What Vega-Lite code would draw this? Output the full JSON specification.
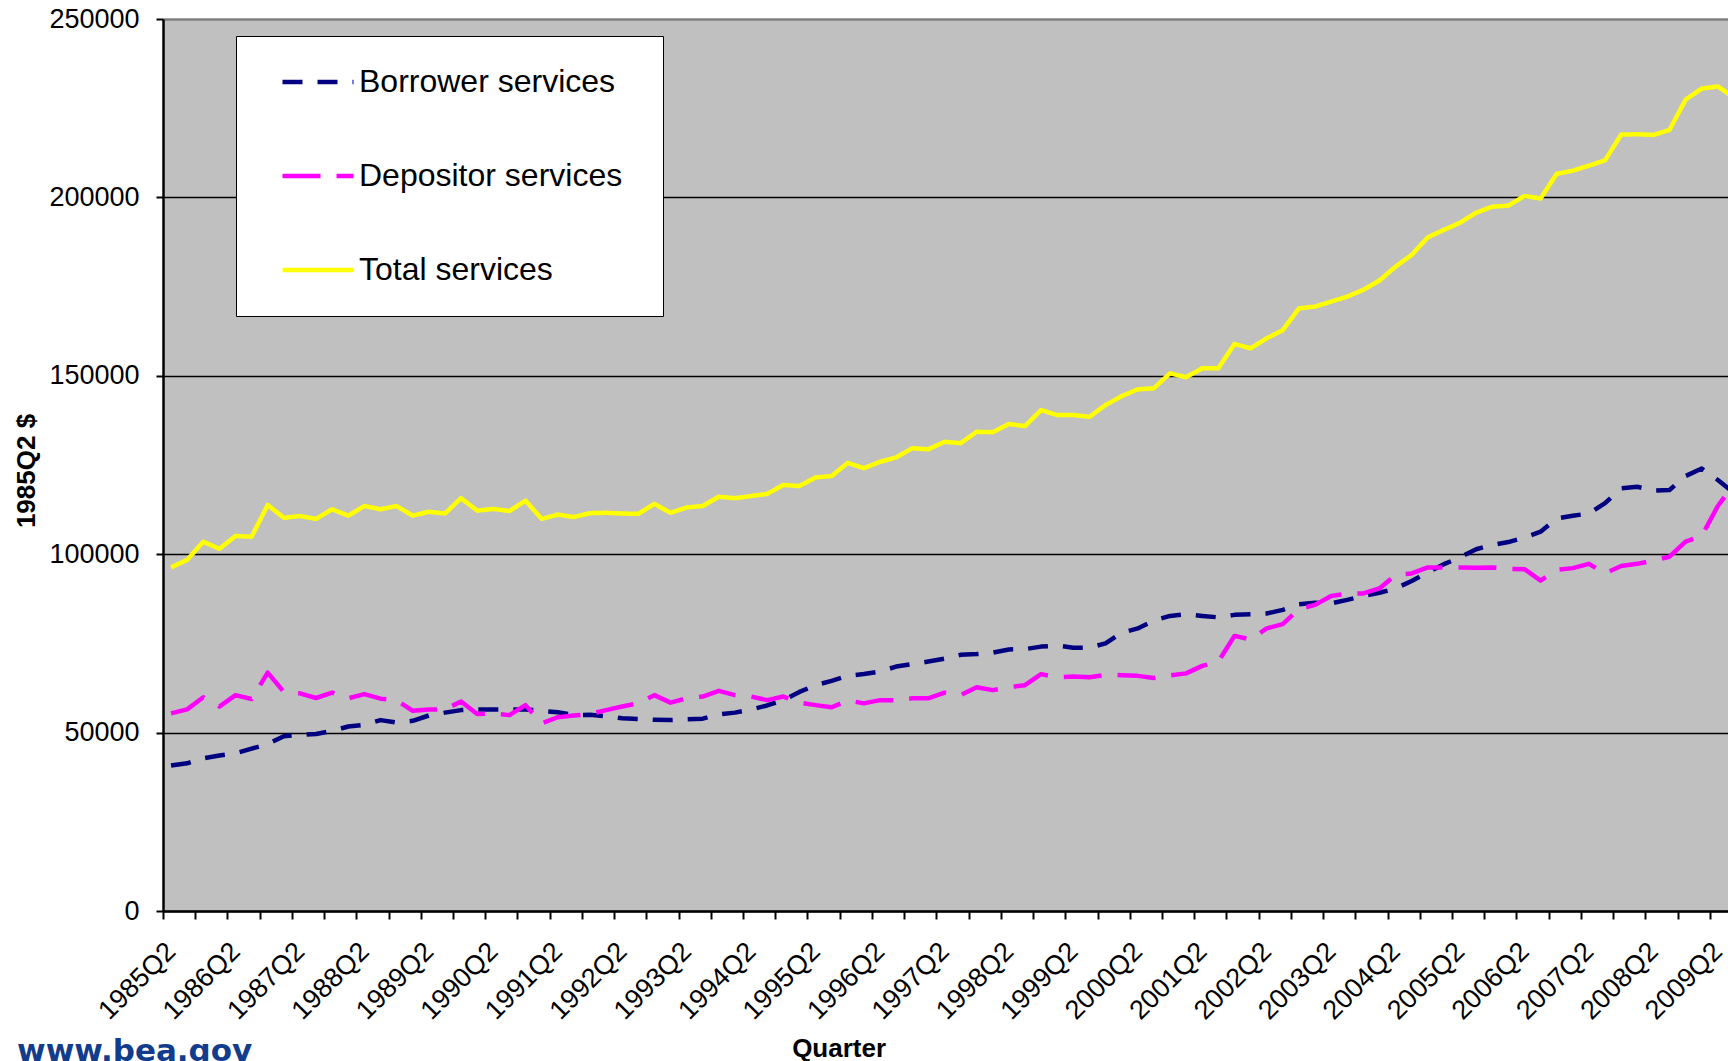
{
  "$schema": "https://vega.github.io/schema/vega-lite/v6.json",
  "width": 1565,
  "height": 892,
  "autosize": {"type": "none"},
  "padding": {"left": 163, "top": 19, "right": 0, "bottom": 150},
  "background": "white",
  "config": {
    "view": {"fill": "#C0C0C0", "stroke": null},
    "font": "Liberation Sans",
    "legend": {
      "orient": "none",
      "legendX": 73,
      "legendY": 17,
      "fillColor": "white",
      "strokeColor": "black",
      "padding": 10,
      "rowPadding": 22,
      "clipHeight": 72,
      "symbolType": "stroke",
      "symbolSize": 5041,
      "symbolStrokeWidth": 4.5,
      "symbolOffset": 34,
      "labelOffset": 3,
      "labelFontSize": 32,
      "labelFont": "Liberation Sans",
      "labelColor": "black",
      "labelLimit": 600,
      "titleOrient": "right",
      "titlePadding": 31,
      "titleFontSize": 3
    }
  },
  "title": {
    "text": "www.bea.gov",
    "orient": "bottom",
    "anchor": "start",
    "frame": "group",
    "dx": -146,
    "offset": 0,
    "baseline": "alphabetic",
    "font": "DejaVu Sans",
    "fontSize": 31,
    "fontWeight": "bold",
    "color": "#123c8c"
  },
  "data": {
    "values": [
      {"quarter": "1985Q2", "Borrower services": 40800, "Depositor services": 55400, "Total services": 96300},
      {"quarter": "1985Q3", "Borrower services": 41400, "Depositor services": 56500, "Total services": 98400},
      {"quarter": "1985Q4", "Borrower services": 42800, "Depositor services": 59900, "Total services": 103500},
      {"quarter": "1986Q1", "Borrower services": 43600, "Depositor services": 57300, "Total services": 101500},
      {"quarter": "1986Q2", "Borrower services": 44200, "Depositor services": 60500, "Total services": 105100},
      {"quarter": "1986Q3", "Borrower services": 45500, "Depositor services": 59400, "Total services": 104900},
      {"quarter": "1986Q4", "Borrower services": 46800, "Depositor services": 66800, "Total services": 113800},
      {"quarter": "1987Q1", "Borrower services": 49000, "Depositor services": 61400, "Total services": 110200},
      {"quarter": "1987Q2", "Borrower services": 49400, "Depositor services": 61000, "Total services": 110700},
      {"quarter": "1987Q3", "Borrower services": 49600, "Depositor services": 59700, "Total services": 109900},
      {"quarter": "1987Q4", "Borrower services": 50500, "Depositor services": 61200, "Total services": 112600},
      {"quarter": "1988Q1", "Borrower services": 51700, "Depositor services": 59600, "Total services": 110800},
      {"quarter": "1988Q2", "Borrower services": 52200, "Depositor services": 60800, "Total services": 113500},
      {"quarter": "1988Q3", "Borrower services": 53500, "Depositor services": 59500, "Total services": 112600},
      {"quarter": "1988Q4", "Borrower services": 52800, "Depositor services": 59100, "Total services": 113500},
      {"quarter": "1989Q1", "Borrower services": 53300, "Depositor services": 56100, "Total services": 110800},
      {"quarter": "1989Q2", "Borrower services": 54800, "Depositor services": 56500, "Total services": 111900},
      {"quarter": "1989Q3", "Borrower services": 55600, "Depositor services": 56500, "Total services": 111400},
      {"quarter": "1989Q4", "Borrower services": 56300, "Depositor services": 58700, "Total services": 115700},
      {"quarter": "1990Q1", "Borrower services": 56500, "Depositor services": 55200, "Total services": 112200},
      {"quarter": "1990Q2", "Borrower services": 56500, "Depositor services": 55400, "Total services": 112700},
      {"quarter": "1990Q3", "Borrower services": 56500, "Depositor services": 54900, "Total services": 112100},
      {"quarter": "1990Q4", "Borrower services": 56500, "Depositor services": 57700, "Total services": 115000},
      {"quarter": "1991Q1", "Borrower services": 56100, "Depositor services": 52600, "Total services": 109900},
      {"quarter": "1991Q2", "Borrower services": 55700, "Depositor services": 54300, "Total services": 111100},
      {"quarter": "1991Q3", "Borrower services": 54900, "Depositor services": 54800, "Total services": 110400},
      {"quarter": "1991Q4", "Borrower services": 55000, "Depositor services": 55200, "Total services": 111500},
      {"quarter": "1992Q1", "Borrower services": 54600, "Depositor services": 56300, "Total services": 111600},
      {"quarter": "1992Q2", "Borrower services": 54000, "Depositor services": 57300, "Total services": 111400},
      {"quarter": "1992Q3", "Borrower services": 53800, "Depositor services": 58200, "Total services": 111300},
      {"quarter": "1992Q4", "Borrower services": 53600, "Depositor services": 60500, "Total services": 114100},
      {"quarter": "1993Q1", "Borrower services": 53500, "Depositor services": 58400, "Total services": 111600},
      {"quarter": "1993Q2", "Borrower services": 53700, "Depositor services": 59600, "Total services": 113100},
      {"quarter": "1993Q3", "Borrower services": 53900, "Depositor services": 60100, "Total services": 113500},
      {"quarter": "1993Q4", "Borrower services": 55100, "Depositor services": 61700, "Total services": 116100},
      {"quarter": "1994Q1", "Borrower services": 55600, "Depositor services": 60500, "Total services": 115700},
      {"quarter": "1994Q2", "Borrower services": 56500, "Depositor services": 60100, "Total services": 116300},
      {"quarter": "1994Q3", "Borrower services": 57600, "Depositor services": 59100, "Total services": 116900},
      {"quarter": "1994Q4", "Borrower services": 59100, "Depositor services": 60100, "Total services": 119400},
      {"quarter": "1995Q1", "Borrower services": 61400, "Depositor services": 58400, "Total services": 119100},
      {"quarter": "1995Q2", "Borrower services": 63300, "Depositor services": 57700, "Total services": 121500},
      {"quarter": "1995Q3", "Borrower services": 64500, "Depositor services": 57100, "Total services": 121900},
      {"quarter": "1995Q4", "Borrower services": 65900, "Depositor services": 59000, "Total services": 125600},
      {"quarter": "1996Q1", "Borrower services": 66400, "Depositor services": 58200, "Total services": 124100},
      {"quarter": "1996Q2", "Borrower services": 67100, "Depositor services": 59100, "Total services": 125900},
      {"quarter": "1996Q3", "Borrower services": 68500, "Depositor services": 59100, "Total services": 127100},
      {"quarter": "1996Q4", "Borrower services": 69200, "Depositor services": 59600, "Total services": 129700},
      {"quarter": "1997Q1", "Borrower services": 69900, "Depositor services": 59600, "Total services": 129400},
      {"quarter": "1997Q2", "Borrower services": 70700, "Depositor services": 61200, "Total services": 131500},
      {"quarter": "1997Q3", "Borrower services": 71800, "Depositor services": 60500, "Total services": 131100},
      {"quarter": "1997Q4", "Borrower services": 72000, "Depositor services": 62700, "Total services": 134300},
      {"quarter": "1998Q1", "Borrower services": 72400, "Depositor services": 61900, "Total services": 134200},
      {"quarter": "1998Q2", "Borrower services": 73300, "Depositor services": 62700, "Total services": 136500},
      {"quarter": "1998Q3", "Borrower services": 73400, "Depositor services": 63300, "Total services": 135900},
      {"quarter": "1998Q4", "Borrower services": 74100, "Depositor services": 66400, "Total services": 140400},
      {"quarter": "1999Q1", "Borrower services": 74400, "Depositor services": 65500, "Total services": 139000},
      {"quarter": "1999Q2", "Borrower services": 73800, "Depositor services": 65700, "Total services": 139000},
      {"quarter": "1999Q3", "Borrower services": 73800, "Depositor services": 65500, "Total services": 138500},
      {"quarter": "1999Q4", "Borrower services": 75000, "Depositor services": 66200, "Total services": 141800},
      {"quarter": "2000Q1", "Borrower services": 78000, "Depositor services": 66100, "Total services": 144300},
      {"quarter": "2000Q2", "Borrower services": 79200, "Depositor services": 65900, "Total services": 146200},
      {"quarter": "2000Q3", "Borrower services": 81400, "Depositor services": 65300, "Total services": 146500},
      {"quarter": "2000Q4", "Borrower services": 82700, "Depositor services": 66000, "Total services": 150700},
      {"quarter": "2001Q1", "Borrower services": 83200, "Depositor services": 66600, "Total services": 149600},
      {"quarter": "2001Q2", "Borrower services": 82700, "Depositor services": 68700, "Total services": 152100},
      {"quarter": "2001Q3", "Borrower services": 82300, "Depositor services": 69900, "Total services": 152100},
      {"quarter": "2001Q4", "Borrower services": 83000, "Depositor services": 77100, "Total services": 158900},
      {"quarter": "2002Q1", "Borrower services": 83200, "Depositor services": 76100, "Total services": 157700},
      {"quarter": "2002Q2", "Borrower services": 83400, "Depositor services": 79200, "Total services": 160500},
      {"quarter": "2002Q3", "Borrower services": 84400, "Depositor services": 80400, "Total services": 162800},
      {"quarter": "2002Q4", "Borrower services": 86000, "Depositor services": 84600, "Total services": 168900},
      {"quarter": "2003Q1", "Borrower services": 86400, "Depositor services": 85800, "Total services": 169400},
      {"quarter": "2003Q2", "Borrower services": 86200, "Depositor services": 88300, "Total services": 170800},
      {"quarter": "2003Q3", "Borrower services": 87200, "Depositor services": 88900, "Total services": 172200},
      {"quarter": "2003Q4", "Borrower services": 88300, "Depositor services": 89000, "Total services": 174100},
      {"quarter": "2004Q1", "Borrower services": 89200, "Depositor services": 90400, "Total services": 176700},
      {"quarter": "2004Q2", "Borrower services": 90400, "Depositor services": 94200, "Total services": 180600},
      {"quarter": "2004Q3", "Borrower services": 92500, "Depositor services": 94600, "Total services": 183900},
      {"quarter": "2004Q4", "Borrower services": 94900, "Depositor services": 96300, "Total services": 188800},
      {"quarter": "2005Q1", "Borrower services": 97200, "Depositor services": 96300, "Total services": 190900},
      {"quarter": "2005Q2", "Borrower services": 99100, "Depositor services": 96300, "Total services": 192900},
      {"quarter": "2005Q3", "Borrower services": 101400, "Depositor services": 96200, "Total services": 195700},
      {"quarter": "2005Q4", "Borrower services": 102600, "Depositor services": 96300, "Total services": 197400},
      {"quarter": "2006Q1", "Borrower services": 103400, "Depositor services": 95900, "Total services": 197700},
      {"quarter": "2006Q2", "Borrower services": 104700, "Depositor services": 95800, "Total services": 200400},
      {"quarter": "2006Q3", "Borrower services": 106300, "Depositor services": 92600, "Total services": 199700},
      {"quarter": "2006Q4", "Borrower services": 110000, "Depositor services": 95600, "Total services": 206600},
      {"quarter": "2007Q1", "Borrower services": 110800, "Depositor services": 96100, "Total services": 207500},
      {"quarter": "2007Q2", "Borrower services": 111400, "Depositor services": 97300, "Total services": 208900},
      {"quarter": "2007Q3", "Borrower services": 114300, "Depositor services": 94600, "Total services": 210400},
      {"quarter": "2007Q4", "Borrower services": 118500, "Depositor services": 96700, "Total services": 217600},
      {"quarter": "2008Q1", "Borrower services": 118900, "Depositor services": 97300, "Total services": 217700},
      {"quarter": "2008Q2", "Borrower services": 117800, "Depositor services": 98200, "Total services": 217500},
      {"quarter": "2008Q3", "Borrower services": 118000, "Depositor services": 99300, "Total services": 218900},
      {"quarter": "2008Q4", "Borrower services": 121900, "Depositor services": 103500, "Total services": 227400},
      {"quarter": "2009Q1", "Borrower services": 124000, "Depositor services": 105100, "Total services": 230500},
      {"quarter": "2009Q2", "Borrower services": 120800, "Depositor services": 113500, "Total services": 231100},
      {"quarter": "2009Q3", "Borrower services": 117200, "Depositor services": 119600, "Total services": 228000}
    ]
  },
  "transform": [
    {"fold": ["Borrower services", "Depositor services", "Total services"], "as": ["series", "value"]}
  ],
  "mark": {"type": "line", "strokeWidth": 4.5, "clip": true, "strokeCap": "butt", "strokeJoin": "round"},
  "encoding": {
    "x": {
      "field": "quarter",
      "type": "ordinal",
      "sort": null,
      "scale": {"type": "point", "padding": 0.5, "range": [0, 1579]},
      "axis": {
        "values": ["1985Q2","1985Q4","1986Q2","1986Q4","1987Q2","1987Q4","1988Q2","1988Q4","1989Q2","1989Q4","1990Q2","1990Q4","1991Q2","1991Q4","1992Q2","1992Q4","1993Q2","1993Q4","1994Q2","1994Q4","1995Q2","1995Q4","1996Q2","1996Q4","1997Q2","1997Q4","1998Q2","1998Q4","1999Q2","1999Q4","2000Q2","2000Q4","2001Q2","2001Q4","2002Q2","2002Q4","2003Q2","2003Q4","2004Q2","2004Q4","2005Q2","2005Q4","2006Q2","2006Q4","2007Q2","2007Q4","2008Q2","2008Q4","2009Q2"],
        "labelExpr": "indexof(datum.value, 'Q2') > 0 ? datum.value : ''",
        "labelAngle": -45,
        "labelAlign": "right",
        "labelBaseline": "middle",
        "labelFontSize": 27,
        "labelColor": "black",
        "labelPadding": 28,
        "labelOffset": 8.06,
        "tickOffset": -8.06,
        "tickSize": 8,
        "tickWidth": 2,
        "tickColor": "black",
        "domainColor": "black",
        "domainWidth": 2.5,
        "labelOverlap": false,
        "labelBound": false,
        "grid": false,
        "title": "Quarter",
        "titleFontSize": 26,
        "titleFontWeight": "bold",
        "titleColor": "black",
        "titleX": 675.6,
        "titleY": 145,
        "titleAlign": "center",
        "titleBaseline": "alphabetic"
      }
    },
    "y": {
      "field": "value",
      "type": "quantitative",
      "scale": {"domain": [0, 250000], "nice": false},
      "axis": {
        "values": [0, 50000, 100000, 150000, 200000, 250000],
        "format": "d",
        "labelFontSize": 27,
        "labelColor": "black",
        "labelPadding": 17,
        "tickSize": 7,
        "tickWidth": 2,
        "tickColor": "black",
        "domainColor": "black",
        "domainWidth": 2.5,
        "grid": true,
        "gridColor": {"condition": {"test": "datum.value === 250000", "value": "#808080"}, "value": "black"},
        "gridWidth": {"condition": {"test": "datum.value === 250000", "value": 2.5}, "value": 1.5},
        "title": "1985Q2 $",
        "titleFontSize": 26,
        "titleFontWeight": "bold",
        "titleColor": "black",
        "titleX": -137,
        "titleY": 451.5,
        "titleAngle": 270,
        "titleAlign": "center",
        "titleBaseline": "middle"
      }
    },
    "color": {
      "field": "series",
      "type": "nominal",
      "scale": {"domain": ["Borrower services", "Depositor services", "Total services"], "range": ["#000080", "#FF00FF", "#FFFF00"]},
      "legend": {"title": " "}
    },
    "strokeDash": {
      "field": "series",
      "type": "nominal",
      "scale": {"domain": ["Borrower services", "Depositor services", "Total services"], "range": [[20, 15], [38, 16], [1, 0]]},
      "legend": {"title": " "}
    }
  }
}
